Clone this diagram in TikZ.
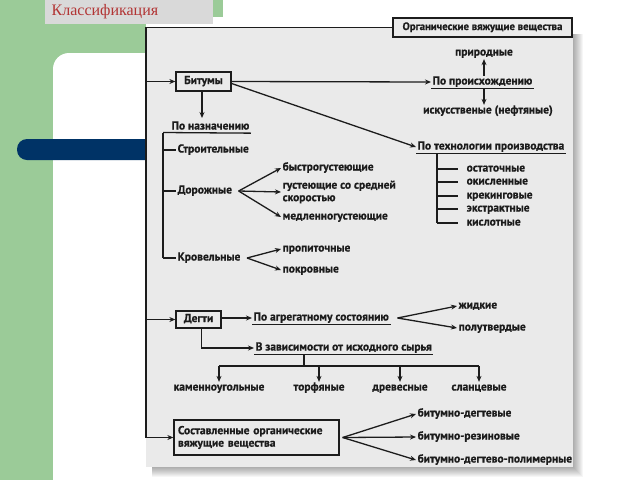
\documentclass[tikz,border=0pt]{standalone}
\usepackage{fontspec}
\setmainfont{Liberation Serif}
\newfontfamily\schemefont[FakeBold=0.7]{PT Sans}
\usetikzlibrary{arrows.meta,positioning}

\definecolor{slidegreen}{RGB}{155,203,152}
\definecolor{slideblue}{RGB}{0,51,102}
\definecolor{titlegray}{RGB}{217,217,217}
\definecolor{titlered}{RGB}{178,52,52}
\definecolor{scangray}{RGB}{234,234,234}
\definecolor{ink}{RGB}{28,28,28}

\begin{document}
\begin{tikzpicture}[
    x=1pt, y=-1pt,
    >={Stealth[length=6pt,width=5pt]},
    line width=1.3pt,
    draw=ink,
    every node/.append style={
        font=\schemefont\bfseries\fontsize{11.5}{12.5}\selectfont,
        text=ink,
        inner sep=1pt,
        text height=7pt,
        text depth=2pt
    },
    box/.style={
        draw=ink,
        fill=scangray,
        line width=1.3pt,
        minimum height=#1
    },
    box/.default=19pt,
    item/.style={anchor=west},
    head/.style={anchor=west},
    multi/.style={anchor=west, align=left, text height=, text depth=}
]
\useasboundingbox (0,0) rectangle (640,480);

% Slide background
\fill[white] (0,0) rectangle (640,480);
\fill[slidegreen] (0,0) rectangle (223,17);
\fill[slidegreen] (0,0) rectangle (146,480);
\fill[white, rounded corners=16pt] (53,53) rectangle (680,520);
\fill[slideblue, rounded corners=10pt] (17,139) rectangle (170,160);
\fill[titlegray] (45,0) rectangle (213,24);
\node[anchor=west, inner sep=0pt, font=\rmfamily\fontsize{16}{18}\selectfont,
      text=titlered, text height=, text depth=] (title) at (51,11.5) {Классификация};

% Scanned sheet with its shadow
\foreach \s in {1,...,10}
    \fill[black, opacity=0.035] (152,34) rectangle (573+\s,467+\s);
\fill[scangray] (146,27) rectangle (573,467);

% Nodes — main kinds
\node[box, minimum width=179pt, font=\schemefont\bfseries\fontsize{10.8}{12}\selectfont]
      (root) at (482.5,27.5) {Органические вяжущие вещества};
\node[box, minimum width=55pt]  (bitumen) at (203.5,81.5) {Битумы};
\node[box=17pt, minimum width=45pt] (tar) at (198.5,319.5) {Дегти};
\node[box=35pt, minimum width=165pt, text width=157pt, align=left,
      text height=, text depth=] (mixed) at (256.5,437.5)
      {Составленные органические\\вяжущие вещества};

% Trunk from the root box
\coordinate (corner) at (146,27.5);
\draw[->] (root.west) -- (corner) |- (mixed.west);
\draw[->] (corner |- bitumen.west) -- (bitumen.west);
\draw[->] (corner |- tar.west) -- (tar.west);

% Bitumen: origin
\node[head] (origin) at (431,82) {По происхождению};
\node (natural) at (484,53) {природные};
\node (artificial) at (488,111) {искусственые (нефтяные)};
\draw (origin.south west) -- (origin.south east);
\draw[->] (bitumen.east) -- (origin.west);
\draw[->] (origin.north -| natural) -- (natural.south);
\draw[->] (origin.south -| natural) -- (artificial.north -| natural);

% Bitumen: production technology
\node[head] (tech) at (416,147) {По технологии производства};
\draw (tech.south west) -- (tech.south east);
\draw[->] ([yshift=-2pt]bitumen.east) -- (tech.west);
\coordinate (techrail) at (437,153);
\node[item] (residual)   at (465,169) {остаточные};
\node[item] (oxidized)   at (465,182) {окисленные};
\node[item] (cracking)   at (465,196) {крекинговые};
\node[item] (extract)    at (465,209) {экстрактные};
\node[item] (acid)       at (465,223) {кислотные};
\draw (techrail) -- (techrail |- acid.west);
\foreach \n in {residual,oxidized,cracking,extract,acid}
    \draw (techrail |- \n.west) -- ([xshift=-7pt]\n.west);

% Bitumen: purpose
\node[head] (purpose) at (170,127) {По назначению};
\coordinate (purposetop) at (202,118);
\draw[->] (bitumen.south -| purposetop) -- (purposetop);
\coordinate (purposerail) at (163,132.5);
\draw (purposerail) -- (purpose.south east);
\node[item] (building) at (176,150) {Строительные};
\node[item] (road)     at (176,191) {Дорожные};
\node[item] (roofing)  at (176,258) {Кровельные};
\draw (purposerail) -- (purposerail |- roofing.west);
\foreach \n in {building,road,roofing}
    \draw (purposerail |- \n.west) -- (\n.west);

\coordinate (roadfan) at ([xshift=5pt]road.east);
\node[item]  (fast)   at (281,168) {быстрогустеющие};
\node[multi] (medium) at (281,192) {густеющие со средней\\скоростью};
\node[item]  (slow)   at (281,217) {медленногустеющие};
\foreach \n in {fast,medium,slow}
    \draw[->] (roadfan) -- (\n.west);

\coordinate (rooffan) at ([xshift=5pt]roofing.east);
\node[item] (impregnating) at (281,249) {пропиточные};
\node[item] (covering)     at (281,270) {покровные};
\foreach \n in {impregnating,covering}
    \draw[->] (rooffan) -- (\n.west);

% Tar
\node[head] (state) at (252,318) {По агрегатному состоянию};
\draw (state.south west) -- (state.south east);
\draw[->] (tar.east |- state.west) -- (state.west);
\coordinate (statefan) at ([xshift=7pt]state.east);
\node[item] (liquid)    at (457,306) {жидкие};
\node[item] (semisolid) at (457,328) {полутвердые};
\foreach \n in {liquid,semisolid}
    \draw[->] (statefan) -- (\n.west);

\node[head] (source) at (254,348) {В зависимости от исходного сырья};
\draw (source.south west) -- (source.south east);
\draw[->] ([xshift=3pt]tar.south) |- (source.west);
\coordinate (sourcerail) at (304,366);
\draw (source.south -| sourcerail) -- (sourcerail);
\foreach \n/\x/\t in {coal/219/каменноугольные, peat/319/торфяные,
                      wood/400/древесные, shale/479/сланцевые} {
    \node (\n) at (\x,388) {\t};
    \coordinate (rail-\n) at (\n.north |- sourcerail);
    \draw[->] (rail-\n) -- (\n.north);
}
\draw (rail-coal) -- (rail-shale);

% Mixed binders
\coordinate (mixedfan) at ([xshift=3pt]mixed.east);
\node[item] (bittar)     at (416,414) {битумно-дегтевые};
\node[item] (bitrubber)  at (416,437) {битумно-резиновые};
\node[item] (bitpolymer) at (416,460) {битумно-дегтево-полимерные};
\foreach \n in {bittar,bitrubber,bitpolymer}
    \draw[->] (mixedfan) -- (\n.west);

\end{tikzpicture}
\end{document}
